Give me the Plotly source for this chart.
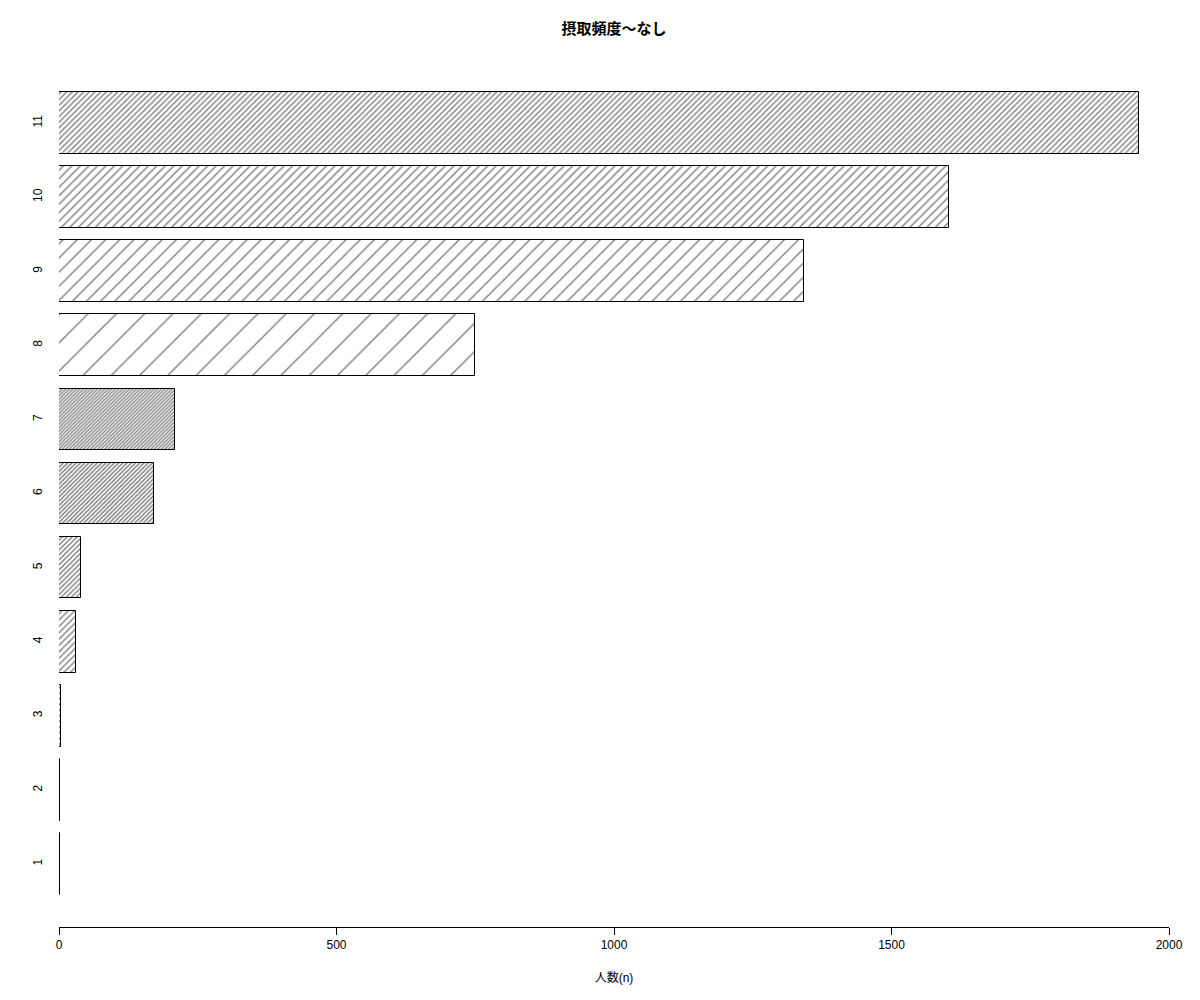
import plotly.graph_objects as go

categories = ["1", "2", "3", "4", "5", "6", "7", "8", "9", "10", "11"]
counts = [1, 2, 4, 31, 40, 171, 209, 750, 1342, 1604, 1946]
positions = [1, 2, 3, 4, 5, 6, 7, 8, 9, 10, 11]
x_ticks = [0, 500, 1000, 1500, 2000]
title_text = "摂取頻度～なし"
x_title = "人数(n)"

# hatch spacing per bar (px) to mimic R density hatching
hatch_size = [4, 4, 4, 4.5, 3.5, 3, 2.5, 20, 10, 6, 4]
hatch_solid = [min(0.9, 1.4 / s) for s in hatch_size]

font_family = "Liberation Sans, Arial, Noto Sans CJK JP, sans-serif"

# page body has an 8px margin; compensate so the figure lands like the reference
W, H = 1184, 984

fig = go.Figure()
fig.add_trace(go.Bar(
    x=counts,
    y=positions,
    orientation="h",
    width=1 / 1.2,
    marker=dict(
        color="white",
        line=dict(color="black", width=1),
        pattern=dict(shape="/", size=hatch_size, solidity=hatch_solid,
                     fgcolor="black", bgcolor="white", fillmode="overlay"),
    ),
    showlegend=False,
))

fig.update_layout(
    width=W, height=H,
    margin=dict(l=51, r=23, t=52, b=65),
    paper_bgcolor="white", plot_bgcolor="white",
    font=dict(family=font_family, size=12, color="black"),
    title=dict(text="<b>" + title_text + "</b>", x=606 / W, xanchor="center",
               y=1 - 21 / H, yanchor="middle", font=dict(size=15)),
    xaxis=dict(range=[0, 2000], tickvals=x_ticks, ticktext=[str(v) for v in x_ticks],
               showline=True, linecolor="black", linewidth=1, ticks="outside",
               ticklen=7, tickcolor="black", showgrid=False, zeroline=False,
               automargin=False,
               title=dict(text=x_title, standoff=22, font=dict(size=12))),
    yaxis=dict(range=[0.15, 11.85], tickvals=positions, ticktext=categories,
               tickangle=-90, showline=False, ticks="", showgrid=False,
               zeroline=False, ticklabelstandoff=14, automargin=False),
    bargap=0,
)

fig.write_html("out.html")
